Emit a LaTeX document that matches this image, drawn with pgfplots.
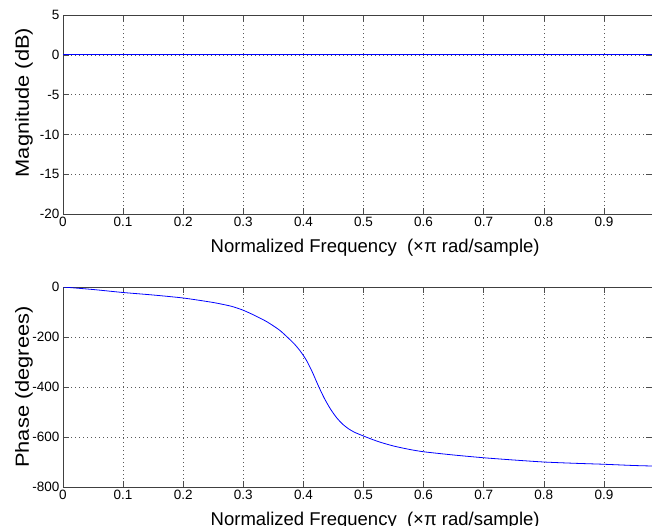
\documentclass[border=0pt]{standalone}
\usepackage{fontspec}
\setmainfont{Liberation Sans}
\usepackage{pgfplots}
\pgfplotsset{compat=1.18}
\definecolor{mlblue}{RGB}{0,0,255}

\pgfplotsset{
  mlstyle/.style={
    scale only axis,
    width=589pt,
    xmin=0, xmax=0.98,
    xtick={0,0.1,0.2,0.3,0.4,0.5,0.6,0.7,0.8,0.9},
    xticklabels={0,0.1,0.2,0.3,0.4,0.5,0.6,0.7,0.8,0.9},
    tick align=inside,
    major tick length=6pt,
    tick style={black!70, line width=0.5pt},
    axis line style={black!75, line width=0.7pt},
    grid=major,
    grid style={black!65, line width=0.5pt, dash pattern=on 1pt off 3pt},
    tick label style={font=\fontsize{13.5}{15}\selectfont},
    /pgf/number format/assume math mode=true,
    scaled ticks=false,
    xlabel={Normalized Frequency\ \ (×π rad/sample)},
    xlabel style={at={(rel axis cs:0.53,0)}, anchor=base, yshift=-38pt,
      font=\fontsize{18.5}{20}\selectfont},
    ylabel style={anchor=center, yshift=39pt, font=\fontsize{19}{21}\selectfont},
  }
}

% phase response read off the reference
\pgfplotstableread{
f      ph
0      0
0.05   -10
0.1    -22
0.15   -32
0.2    -44
0.25   -62
0.28   -77
0.3    -93
0.32   -115
0.34   -140
0.36   -172
0.373  -200
0.385  -228
0.395  -257
0.405  -293
0.415  -341
0.425  -396
0.435  -446
0.445  -488
0.455  -522
0.465  -548
0.475  -567
0.485  -581
0.5    -596
0.515  -610
0.528  -621
0.55   -636
0.575  -649
0.6    -659
0.65   -672
0.7    -683
0.75   -692
0.8    -700
0.85   -705
0.9    -709
0.95   -714
0.98   -716
}\phasedata

\begin{document}
\begin{tikzpicture}
\useasboundingbox (0pt,0pt) rectangle (652pt,-525pt);

\begin{axis}[
  mlstyle,
  at={(63pt,-214pt)}, anchor=south west,
  height=199pt,
  ymin=-20, ymax=5,
  ytick={-20,-15,-10,-5,0,5},
  ylabel={\scalebox{1.15}[1]{Magnitude (dB)}},
  ylabel style={at={(rel axis cs:0,0.56)}},
]
\addplot[mlblue, line width=0.8pt] coordinates {(0,0) (0.98,0)};
\end{axis}

\begin{axis}[
  mlstyle,
  at={(63pt,-487pt)}, anchor=south west,
  height=200pt,
  ymin=-800, ymax=0,
  ytick={-800,-600,-400,-200,0},
  ylabel={\scalebox{1.15}[1]{Phase (degrees)}},
  ylabel style={at={(rel axis cs:0,0.5)}},
]
\addplot[mlblue, line width=0.8pt, smooth, tension=0.4] table[x=f, y=ph] {\phasedata};
\end{axis}
\end{tikzpicture}
\end{document}
